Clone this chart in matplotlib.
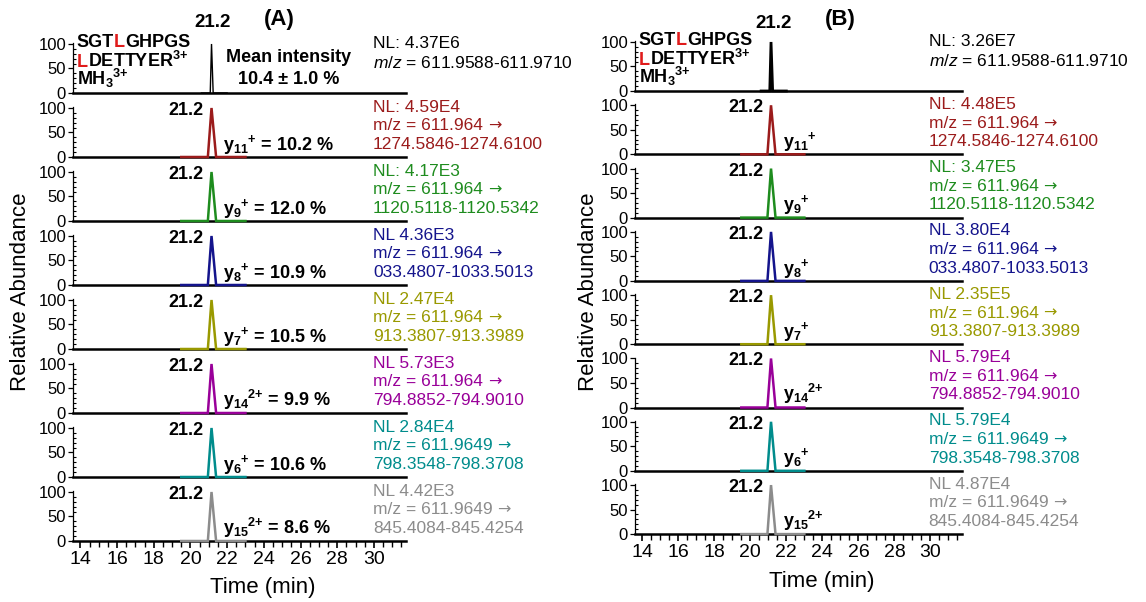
import matplotlib
matplotlib.use('Agg')
import matplotlib.pyplot as plt
import matplotlib.transforms as mtransforms
from matplotlib.ticker import MultipleLocator, FixedLocator, NullLocator

plt.rcParams['font.family'] = ['Liberation Sans', 'DejaVu Sans']
plt.rcParams['mathtext.fontset'] = 'custom'
plt.rcParams['mathtext.rm'] = 'Liberation Sans'
plt.rcParams['mathtext.it'] = 'Liberation Sans:italic'
plt.rcParams['mathtext.bf'] = 'Liberation Sans:bold'
plt.rcParams['mathtext.default'] = 'bf'

# --- data ---
row_colors = ['black', '#9B1B1B', '#1E8C1E', '#14148C', '#999900',
              '#990099', '#008C8C', '#8C8C8C']
fragments = [r'y_{11}{}^{+}', r'y_{9}{}^{+}', r'y_{8}{}^{+}', r'y_{7}{}^{+}',
             r'y_{14}{}^{2{+}}', r'y_{6}{}^{+}', r'y_{15}{}^{2{+}}']
ratios_A = ['10.2', '12.0', '10.9', '10.5', '9.9', '10.6', '8.6']
nl_A = ['NL: 4.37E6', 'NL: 4.59E4', 'NL: 4.17E3', 'NL 4.36E3', 'NL 2.47E4',
        'NL 5.73E3', 'NL 2.84E4', 'NL 4.42E3']
nl_B = ['NL: 3.26E7', 'NL: 4.48E5', 'NL: 3.47E5', 'NL 3.80E4', 'NL 2.35E5',
        'NL 5.79E4', 'NL 5.79E4', 'NL 4.87E4']
precursor_mz = ['611.964', '611.964', '611.964', '611.964', '611.964',
                '611.9649', '611.9649']
product_ranges = ['1274.5846-1274.6100', '1120.5118-1120.5342',
                  '033.4807-1033.5013', '913.3807-913.3989',
                  '794.8852-794.9010', '798.3548-798.3708',
                  '845.4084-845.4254']
precursor_range = '611.9588-611.9710'
mean_intensity = '10.4 \u00b1 1.0 %'
rt_label = '21.2'

# chromatogram traces (time in min, relative abundance)
time_ms1 = [20.6, 21.08, 21.15, 21.24, 22.0]
abund_ms1 = [0, 0, 100, 0, 0]
time_xic = [19.5, 20.95, 21.15, 21.4, 23.0]
abund_xic = [0, 0, 100, 0, 0]

W, H = 1146, 602
fig = plt.figure(figsize=(W / 100, H / 100), dpi=100)
renderer = fig.canvas.get_renderer()

XMIN, XMAX = 13.6, 31.75
YTOP = 102
AX_H = 50  # px
RED_L = '#E01B1B'


def text_width(s, **kw):
    t = fig.text(0, 0, s, **kw)
    w = t.get_window_extent(renderer).width
    t.remove()
    return w


def colored_line(ax, x, y, parts, **kw):
    """Draw text pieces of different colours one after the other on a baseline."""
    prefix = ''
    for s, c in parts:
        dx = 0 if not prefix else text_width(prefix + s, **kw) - text_width(s, **kw)
        tr = mtransforms.offset_copy(ax.transData, fig=fig, x=dx, y=0, units='dots')
        ax.text(x, y, s, color=c, ha='left', va='baseline', transform=tr, **kw)
        prefix += s


def arrow_after(ax, x, y, s, color, fs):
    """Text followed by a DejaVu arrow."""
    ax.text(x, y, s, ha='left', va='center', fontsize=fs, color=color)
    dx = text_width(s + ' n', fontsize=fs) - text_width('n', fontsize=fs)
    tr = mtransforms.offset_copy(ax.transData, fig=fig, x=dx, y=0, units='dots')
    ax.text(x, y, '\u2192', ha='left', va='center', fontsize=fs - 1, color=color,
            family='DejaVu Sans', transform=tr)


def make_panel(left, right, zero0, pitch, nl, ratios, ms1_lw, text_x, letter, letter_x,
               ylab_x, ylab_y, xlab_x, xlab_y, top_rt_x, top_rt_y):
    axes = []
    for i in range(8):
        zero = zero0 + pitch * i
        ax = fig.add_axes([left / W, 1 - zero / H, (right - left) / W, AX_H / H])
        c = row_colors[i]
        if i == 0:
            ax.plot(time_ms1, abund_ms1, color='black', lw=ms1_lw,
                    solid_joinstyle='miter', clip_on=False, zorder=4)
        else:
            ax.plot(time_xic, abund_xic, color=c, lw=1.8,
                    solid_joinstyle='miter', clip_on=False, zorder=4)
        ax.set_xlim(XMIN, XMAX)
        ax.set_ylim(0, YTOP)
        for s in ['top', 'right']:
            ax.spines[s].set_visible(False)
        ax.spines['bottom'].set_linewidth(1.8)
        ax.spines['left'].set_linewidth(0.9)
        ax.yaxis.set_major_locator(FixedLocator([0, 50, 100]))
        ax.yaxis.set_minor_locator(MultipleLocator(10))
        ax.tick_params(axis='y', which='major', direction='out', length=3.5, width=0.9,
                       labelsize=12, pad=1.5)
        ax.tick_params(axis='y', which='minor', direction='in', length=2.5, width=0.8)
        if i < 7:
            ax.xaxis.set_major_locator(NullLocator())
            ax.xaxis.set_minor_locator(NullLocator())
        else:
            ax.xaxis.set_major_locator(MultipleLocator(2))
            ax.xaxis.set_minor_locator(MultipleLocator(0.5))
            ax.tick_params(axis='x', which='major', direction='out', length=5, width=1.2,
                           labelsize=14, pad=2)
            ax.tick_params(axis='x', which='minor', direction='out', length=4, width=1.0)
        ax.patch.set_alpha(0)

        if i == 0:
            ax.text(top_rt_x, top_rt_y, rt_label, ha='center', va='center',
                    fontsize=13.5, fontweight='bold', clip_on=False)
            colored_line(ax, 13.8, 94, [('SGT', 'black'), ('L', RED_L),
                                        ('GHPGS', 'black')], fontsize=13, fontweight='bold')
            colored_line(ax, 13.8, 54, [('L', RED_L), (r'DETTYER$^{3{+}}$', 'black')],
                         fontsize=13, fontweight='bold')
            ax.text(13.8, 16, r'MH$_{3}{}^{3{+}}$', ha='left', va='baseline',
                    fontsize=13, fontweight='bold')
            ax.text(text_x, 101, nl[0], ha='left', va='center', fontsize=12.5)
            ax.text(text_x, 61, r'$\mathit{m/z}$ = ' + precursor_range,
                    ha='left', va='center', fontsize=12.5)
            if ratios is not None:
                ax.text(25.35, 73, 'Mean intensity', ha='center', va='center',
                        fontsize=13, fontweight='bold')
                ax.text(25.35, 27, mean_intensity, ha='center', va='center',
                        fontsize=13, fontweight='bold')
        else:
            ax.text(20.72, 95, rt_label, ha='right', va='center',
                    fontsize=13, fontweight='bold')
            lab = '$' + fragments[i - 1] + '$'
            if ratios is not None:
                lab += ' = ' + ratios[i - 1] + ' %'
            ax.text(21.8, 15, lab, ha='left', va='baseline', fontsize=13,
                    fontweight='bold')
            ax.text(text_x, 102, nl[i], ha='left', va='center', fontsize=12.5, color=c)
            arrow_after(ax, text_x, 63.5, 'm/z = ' + precursor_mz[i - 1], c, 12.5)
            ax.text(text_x, 26, product_ranges[i - 1], ha='left', va='center',
                    fontsize=12.5, color=c)
        axes.append(ax)

    fig.text(letter_x / W, 1 - 20 / H, letter, ha='center', va='center',
             fontsize=16, fontweight='bold')
    fig.text(ylab_x / W, 1 - ylab_y / H, 'Relative Abundance', rotation=90,
             ha='center', va='center', fontsize=16)
    fig.text(xlab_x / W, 1 - xlab_y / H, 'Time (min)', ha='center', va='center',
             fontsize=16)
    return axes


make_panel(73, 406, 93, 64, nl_A, ratios_A, 1.0, 29.95, '(A)', 279,
           21, 292, 263, 587, 21.2, 143)
make_panel(635, 962, 91, 63.3, nl_B, None, 2.0, 29.9, '(B)', 840,
           589, 292, 822, 582, 21.3, 138)

fig.savefig('out.png', dpi=100)
